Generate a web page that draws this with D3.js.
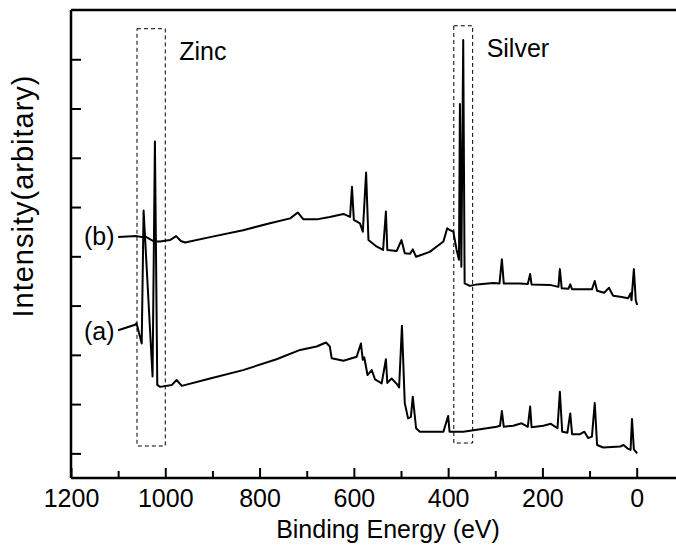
<!DOCTYPE html>
<html>
<head>
<meta charset="utf-8">
<script src="https://cdn.jsdelivr.net/npm/d3@7"></script>
<style>
  body { margin: 0; background: #fff; }
  svg { display: block; font-family: "Liberation Sans", Arial, sans-serif; }
</style>
</head>
<body>
<div id="chart"></div>
<script>
// binding energy (eV), intensity (arbitrary units)
var spectrumA = [
  [1100,3.50],[1064,3.61],[1061,3.64],[1050,3.23],[1046,5.93],[1027,2.56],[1022,7.33],[1017,2.39],
  [1011,2.35],[986,2.39],[976,2.49],[965,2.37],[905,2.52],[835,2.69],[764,2.91],[714,3.10],
  [679,3.17],[659,3.25],[651,3.17],[647,2.93],[622,2.88],[594,2.96],[585,3.23],[581,2.90],
  [578,2.95],[571,2.59],[562,2.69],[555,2.50],[541,2.42],[532,2.91],[529,2.43],[520,2.52],
  [509,2.41],[504,2.34],[498,3.59],[492,2.02],[485,1.71],[479,1.74],[475,2.15],[468,1.51],
  [460,1.44],[410,1.44],[400,1.76],[397,1.44],[368,1.44],[332,1.49],[297,1.54],[290,1.56],
  [286,1.86],[282,1.54],[262,1.56],[244,1.61],[231,1.54],[226,1.95],[223,1.53],[198,1.56],
  [182,1.60],[168,1.51],[163,2.25],[158,1.44],[147,1.42],[141,1.81],[137,1.39],[120,1.39],
  [111,1.44],[103,1.31],[95,1.34],[89,2.02],[84,1.17],[71,1.12],[35,1.14],[28,1.17],
  [18,1.09],[13,1.07],[10,1.70],[6,1.08],[-1,1.00]
];
var spectrumB = [
  [1100,5.39],[1061,5.41],[1050,5.39],[1042,5.40],[1029,5.33],[1023,5.30],[1011,5.30],[990,5.33],
  [977,5.41],[967,5.31],[958,5.28],[905,5.39],[835,5.53],[778,5.67],[735,5.77],[719,5.89],
  [707,5.75],[679,5.75],[651,5.80],[622,5.86],[608,5.80],[604,6.41],[600,5.74],[587,5.67],
  [581,5.50],[574,6.70],[569,5.33],[552,5.20],[538,5.13],[532,5.91],[529,5.13],[509,5.11],
  [499,5.33],[492,5.06],[481,5.05],[475,5.14],[468,4.99],[439,5.09],[410,5.30],[402,5.57],
  [396,5.53],[389,5.50],[382,5.13],[377,4.93],[375,8.09],[372,4.79],[368,9.39],[365,4.45],
  [354,4.40],[339,4.43],[304,4.46],[291,4.45],[286,4.94],[282,4.45],[248,4.45],[231,4.44],
  [226,4.64],[223,4.43],[184,4.42],[166,4.38],[163,4.74],[159,4.35],[145,4.34],[141,4.43],
  [137,4.33],[95,4.33],[89,4.50],[84,4.30],[69,4.26],[59,4.36],[50,4.20],[35,4.18],
  [18,4.15],[13,4.25],[11,4.11],[6,4.74],[2,4.11],[-1,4.01]
];
var majorTicks = [1200, 1000, 800, 600, 400, 200, 0];
var minorTicks = [1100, 900, 700, 500, 300, 100];
var yTicks = [1, 2, 3, 4, 5, 6, 7, 8, 9];
// dashed boxes marking the element regions: [eV from, eV to, intensity low, intensity high]
var boxes = [
  { name: "Zinc",   range: [1060, 1000, 1.15, 9.62] },
  { name: "Silver", range: [388, 348, 1.21, 9.68] }
];
var curveLabels = [
  { text: "(b)", at: 5.53 },
  { text: "(a)", at: 3.60 }
];

var drawSpectra = function(){
  var width = 676, height = 546;
  var plotLeft = 71, plotTop = 10, plotBottom = 478;

  var svg = d3.select("#chart").append("svg")
      .attr("width", width)
      .attr("height", height);

  var x = d3.scaleLinear().domain([1200, -100]).range([plotLeft, plotLeft + 1300 * 565.7 / 1200]);
  var y = d3.scaleLinear().domain([0.5, 10]).range([plotBottom, plotTop]);

  var line = d3.line()
      .x(function(d){ return x(d[0]); })
      .y(function(d){ return y(d[1]); });

  // boxes first so the traces sit over them
  boxes.forEach(function(b){
    var r = b.range;
    svg.append("rect")
        .attr("x", x(r[0])).attr("y", y(r[3]))
        .attr("width", x(r[1]) - x(r[0]))
        .attr("height", y(r[2]) - y(r[3]))
        .attr("fill", "none")
        .attr("stroke", "#000")
        .attr("stroke-width", 1)
        .attr("stroke-dasharray", "4,3");
    svg.append("text")
        .attr("x", x(r[1]) + 14)
        .attr("y", y(r[3]) + 31)
        .attr("font-size", 25)
        .text(b.name);
  });

  [spectrumA, spectrumB].forEach(function(s){
    svg.append("path")
        .datum(s)
        .attr("d", line)
        .attr("fill", "none")
        .attr("stroke", "#000")
        .attr("stroke-width", 2)
        .attr("stroke-linejoin", "round");
  });

  curveLabels.forEach(function(c){
    svg.append("text")
        .attr("x", plotLeft + 13)
        .attr("y", y(c.at) + 15)
        .attr("font-size", 25)
        .text(c.text);
  });

  // bottom axis, ticks pointing inward
  var xAxis = svg.append("g").attr("transform", "translate(0," + plotBottom + ")");
  xAxis.call(d3.axisBottom(x).tickValues(majorTicks).tickSize(-10).tickPadding(11).tickFormat(d3.format("d")));
  xAxis.append("g").call(d3.axisBottom(x).tickValues(minorTicks).tickSize(-7).tickFormat(""));
  xAxis.selectAll("path.domain").remove();
  xAxis.selectAll("line").attr("stroke-width", 2);
  xAxis.selectAll("text")
      .attr("font-family", "Liberation Sans, Arial, sans-serif")
      .attr("font-size", 25)
      .attr("fill", "#000");
  xAxis.append("line")
      .attr("x1", plotLeft).attr("x2", width)
      .attr("stroke", "#000").attr("stroke-width", 2.5);

  // left axis, unlabelled ticks
  var yAxis = svg.append("g").attr("transform", "translate(" + plotLeft + ",0)");
  yAxis.call(d3.axisLeft(y).tickValues(yTicks).tickSize(-10).tickFormat(""));
  yAxis.selectAll("path.domain").remove();
  yAxis.selectAll("line").attr("stroke-width", 2);
  yAxis.append("line")
      .attr("y1", plotTop).attr("y2", plotBottom)
      .attr("stroke", "#000").attr("stroke-width", 2.5);

  // top frame
  svg.append("line")
      .attr("x1", plotLeft).attr("x2", width)
      .attr("y1", plotTop).attr("y2", plotTop)
      .attr("stroke", "#000").attr("stroke-width", 2.5);

  svg.append("text")
      .attr("x", 388).attr("y", 538)
      .attr("text-anchor", "middle")
      .attr("font-size", 25)
      .text("Binding Energy (eV)");

  svg.append("text")
      .attr("transform", "translate(33,196) rotate(-90)")
      .attr("text-anchor", "middle")
      .attr("font-size", 29)
      .attr("letter-spacing", 1)
      .text("Intensity(arbitary)");
};

drawSpectra();
</script>
</body>
</html>
